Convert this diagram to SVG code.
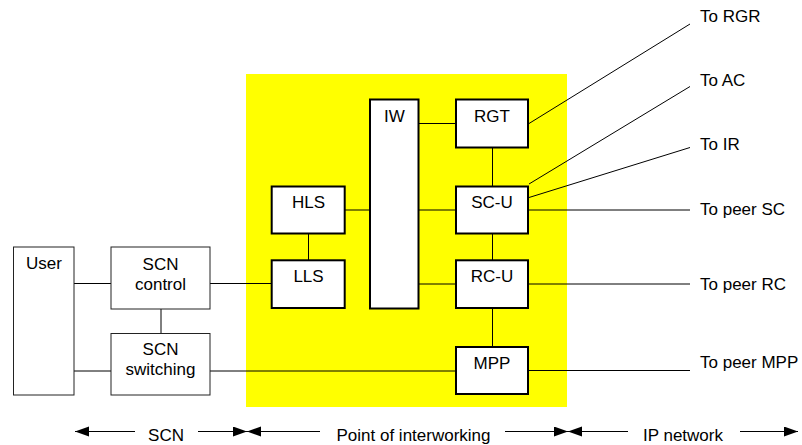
<svg xmlns="http://www.w3.org/2000/svg" width="802" height="445" viewBox="0 0 802 445">
<style>
text{font-family:"Liberation Sans",Arial,sans-serif;font-size:17px;fill:#000}
.c{text-anchor:middle}
.thin{fill:#fff;stroke:#222;stroke-width:1}
.thick{fill:#fff;stroke:#000;stroke-width:2}
.ln{stroke:#000;stroke-width:1;fill:none}
</style>
<defs>
<marker id="ah" markerUnits="userSpaceOnUse" markerWidth="15" markerHeight="11" refX="14" refY="5" orient="auto">
<path d="M0,0 L14,5 L0,10 z" fill="#000"/>
</marker>
</defs>
<rect x="246" y="74" width="321" height="333" fill="#ffff00"/>
<g id="connectors">
<line class="ln" x1="74" y1="283.5" x2="111" y2="283.5"/>
<line class="ln" x1="74" y1="371" x2="111" y2="371"/>
<line class="ln" x1="161" y1="309" x2="161" y2="333.5"/>
<line class="ln" x1="210" y1="283.5" x2="271" y2="283.5"/>
<line class="ln" x1="210" y1="371" x2="455" y2="371"/>
<line class="ln" x1="308.5" y1="234" x2="308.5" y2="260"/>
<line class="ln" x1="345" y1="210" x2="370" y2="210"/>
<line class="ln" x1="419" y1="123.5" x2="456" y2="123.5"/>
<line class="ln" x1="419" y1="210" x2="456" y2="210"/>
<line class="ln" x1="419" y1="284" x2="456" y2="284"/>
<line class="ln" x1="492.5" y1="148" x2="492.5" y2="186"/>
<line class="ln" x1="492.5" y1="234" x2="492.5" y2="260"/>
<line class="ln" x1="492.5" y1="308" x2="492.5" y2="347"/>
<line class="ln" x1="529" y1="123.5" x2="690" y2="24"/>
<line class="ln" x1="529" y1="184" x2="690" y2="86.5"/>
<line class="ln" x1="529" y1="197.5" x2="690" y2="147.5"/>
<line class="ln" x1="529" y1="210" x2="690" y2="210"/>
<line class="ln" x1="529" y1="284" x2="690" y2="284"/>
<line class="ln" x1="529" y1="370.5" x2="690" y2="370.5"/>
<line class="ln" x1="135" y1="431.5" x2="75" y2="431.5" marker-end="url(#ah)"/>
<line class="ln" x1="198" y1="431.5" x2="247" y2="431.5" marker-end="url(#ah)"/>
<line class="ln" x1="320" y1="431.5" x2="247" y2="431.5" marker-end="url(#ah)"/>
<line class="ln" x1="505" y1="431.5" x2="568" y2="431.5" marker-end="url(#ah)"/>
<line class="ln" x1="628" y1="431.5" x2="568" y2="431.5" marker-end="url(#ah)"/>
<line class="ln" x1="740" y1="431.5" x2="798" y2="431.5" marker-end="url(#ah)"/>
</g>
<g id="user"><rect class="thin" x="13.5" y="247" width="60.5" height="148"/><text class="c" x="44" y="269">User</text></g>
<g id="scn-control"><rect class="thin" x="111" y="247" width="99" height="62"/><text class="c" x="160.5" y="270">SCN</text><text class="c" x="160.5" y="290">control</text></g>
<g id="scn-switching"><rect class="thin" x="111" y="333.5" width="99" height="61.5"/><text class="c" x="160.5" y="355">SCN</text><text class="c" x="160.5" y="375">switching</text></g>
<g id="hls"><rect class="thick" x="271.7" y="186.5" width="73" height="47"/><text class="c" x="308.5" y="208">HLS</text></g>
<g id="lls"><rect class="thick" x="271.7" y="260.3" width="73" height="47.7"/><text class="c" x="308.5" y="282">LLS</text></g>
<g id="iw"><rect class="thick" x="370" y="99.5" width="48.5" height="209"/><text class="c" x="394.5" y="122">IW</text></g>
<g id="rgt"><rect class="thick" x="456" y="99.5" width="72" height="48"/><text class="c" x="492" y="122">RGT</text></g>
<g id="sc-u"><rect class="thick" x="456" y="186.5" width="72" height="47"/><text class="c" x="492" y="208">SC-U</text></g>
<g id="rc-u"><rect class="thick" x="456" y="260.3" width="72" height="47.7"/><text class="c" x="492" y="282">RC-U</text></g>
<g id="mpp"><rect class="thick" x="456" y="347" width="72" height="47"/><text class="c" x="492" y="369">MPP</text></g>
<g id="labels">
<text x="700" y="22">To RGR</text>
<text x="700" y="86">To AC</text>
<text x="700" y="150">To IR</text>
<text x="700" y="215">To peer SC</text>
<text x="700" y="290">To peer RC</text>
<text x="700" y="368">To peer MPP</text>
<text class="c" x="166" y="441">SCN</text>
<text class="c" x="413.5" y="441">Point of interworking</text>
<text class="c" x="683" y="441">IP network</text>
</g>
</svg>
